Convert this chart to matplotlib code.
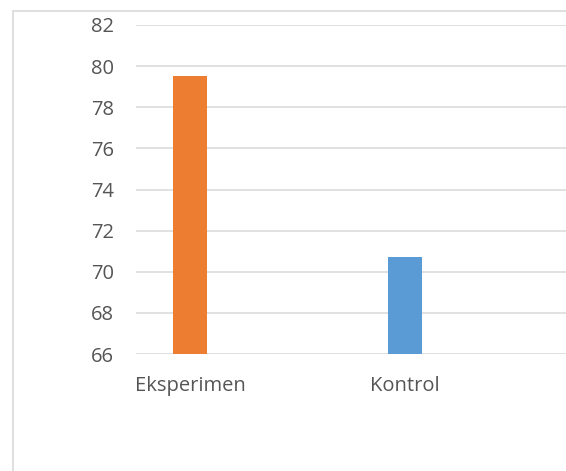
import matplotlib
matplotlib.use("Agg")
import matplotlib.pyplot as plt
from matplotlib.patches import Rectangle

categories = ["Eksperimen", "Kontrol"]
values = [79.5, 70.7]
colors = ["#ED7D31", "#5B9BD5"]
y_ticks = [66, 68, 70, 72, 74, 76, 78, 80, 82]

plt.rcParams["font.family"] = ["Open Sans", "DejaVu Sans"]

W, H = 566, 471
fig = plt.figure(figsize=(W / 100, H / 100), dpi=100)
ax = fig.add_axes([136 / W, 1 - 354 / H, 1 - 136 / W, (354 - 25) / H])

x = list(range(len(categories)))
ax.bar(x, values, width=0.158, color=colors, zorder=3, bottom=0)

ax.set_ylim(66, 82)
ax.set_xlim(-0.251, 1.749)
ax.set_yticks(y_ticks)
ax.set_xticks(x)
ax.set_xticklabels(categories)

ax.grid(axis="y", color="#d9d9d9", linewidth=1.1, zorder=0)
for s in ax.spines.values():
    s.set_visible(False)
ax.tick_params(axis="both", length=0, labelsize=14.5, labelcolor="#555555")
ax.tick_params(axis="y", pad=16)
ax.tick_params(axis="x", pad=16)

# chart area border (only the left and top edges fall inside the picture)
fig.patches.append(Rectangle((13 / W, -0.1), 1.2, 1 - 11 / H + 0.1,
                             transform=fig.transFigure, fill=False,
                             edgecolor="#d9d9d9", linewidth=1.2))

fig.savefig("out.png", dpi=100)
